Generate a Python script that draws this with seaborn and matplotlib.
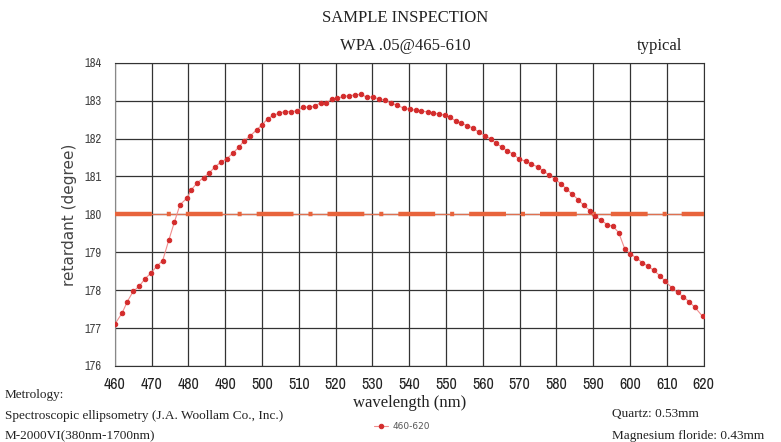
import matplotlib
matplotlib.use("Agg")
import matplotlib.pyplot as plt
from matplotlib import font_manager
import seaborn as sns
import pandas as pd

# measured retardance, WPA .05 sample
wavelength = [
    460.0, 462.0, 463.4, 465.0, 466.6, 468.2, 469.8, 471.4, 473.0, 474.7,
    476.2, 477.7, 479.6, 480.8, 482.4, 484.1, 485.6, 487.2, 488.8, 490.5,
    492.1, 493.7, 495.1, 496.7, 498.5, 500.0, 501.5, 503.0, 504.6, 506.2,
    507.8, 509.5, 511.0, 512.8, 514.3, 515.9, 517.5, 519.0, 520.4, 522.1,
    523.7, 525.2, 527.0, 528.4, 530.1, 531.9, 533.4, 535.0, 536.6, 538.6,
    540.2, 541.8, 543.3, 545.0, 546.5, 548.1, 549.7, 551.0, 552.6, 554.1,
    555.7, 557.3, 558.9, 560.5, 562.1, 563.5, 565.1, 566.6, 568.2, 569.9,
    571.7, 573.2, 574.9, 576.4, 578.0, 579.6, 581.2, 582.7, 584.2, 585.9,
    587.4, 589.1, 590.6, 592.2, 593.8, 595.4, 596.9, 598.6, 600.1, 601.7,
    603.3, 604.9, 606.5, 608.1, 609.6, 611.3, 612.9, 614.4, 616.0, 617.6,
    619.7,
]
retardance = [
    177.10, 177.40, 177.70, 177.97, 178.10, 178.30, 178.45, 178.63, 178.78, 179.33,
    179.80, 180.25, 180.43, 180.65, 180.83, 180.97, 181.09, 181.25, 181.38, 181.47,
    181.62, 181.77, 181.94, 182.06, 182.23, 182.36, 182.52, 182.61, 182.67, 182.71,
    182.71, 182.73, 182.83, 182.83, 182.85, 182.95, 182.95, 183.04, 183.06, 183.11,
    183.13, 183.15, 183.17, 183.09, 183.10, 183.04, 183.01, 182.94, 182.88, 182.80,
    182.77, 182.75, 182.73, 182.70, 182.68, 182.64, 182.62, 182.56, 182.47, 182.41,
    182.34, 182.28, 182.17, 182.08, 181.99, 181.88, 181.78, 181.68, 181.59, 181.46,
    181.40, 181.33, 181.25, 181.15, 181.04, 180.93, 180.81, 180.67, 180.54, 180.39,
    180.24, 180.10, 179.95, 179.84, 179.73, 179.68, 179.52, 179.08, 178.96, 178.85,
    178.73, 178.63, 178.52, 178.38, 178.23, 178.07, 177.94, 177.83, 177.70, 177.55,
    177.31,
]
# 180 degree target line
target_x = [460, 620]
target_y = [180, 180]

x_ticks = list(range(460, 621, 10))
y_ticks = list(range(176, 185))

df = pd.DataFrame({"wavelength": wavelength, "retardance": retardance})
target = pd.DataFrame({"wavelength": target_x, "retardance": target_y})

sns.set_style("white")
plt.rcParams["lines.scale_dashes"] = False

# look for a narrow sans for the tick numbers
narrow_font = None
narrow_stretch = "normal"
for f in font_manager.fontManager.ttflist:
    if "Narrow" in f.name:
        narrow_font = f.name
        break
if narrow_font is None:
    for f in font_manager.fontManager.ttflist:
        if f.name == "DejaVu Sans" and str(f.stretch) in ("condensed", "semi-condensed"):
            narrow_font = "DejaVu Sans"
            narrow_stretch = f.stretch
            break
if narrow_font is None:
    narrow_font = "Liberation Sans"

fig = plt.figure(figsize=(7.81, 4.42), dpi=100)
ax = fig.add_axes([0.147, 0.172, 0.754, 0.686])

# target line: thin solid + thick dash-dot on top
sns.lineplot(data=target, x="wavelength", y="retardance", ax=ax,
             color="#e07050", linewidth=0.9, zorder=3)
sns.lineplot(data=target, x="wavelength", y="retardance", ax=ax,
             color="#e8643c", linewidth=3.2, zorder=3)
ax.lines[-1].set_dashes((26.5, 10.8, 2.9, 10.8))
ax.lines[-1].set_dash_capstyle("butt")

sns.lineplot(data=df, x="wavelength", y="retardance", ax=ax,
             color="#f08c8c", linewidth=0.8, marker="o", markersize=3.2,
             markerfacecolor="#d32c2c", markeredgecolor="#d32c2c",
             label="460-620", zorder=4)

ax.set_xlim(460, 620)
ax.set_ylim(176, 184)
ax.set_xticks(x_ticks)
ax.set_yticks(y_ticks)
ax.grid(True, color="#333333", linewidth=0.9)
ax.set_axisbelow(True)
for side in ["top", "right", "bottom"]:
    ax.spines[side].set_color("#333333")
ax.spines["left"].set_color("#888888")

ax.tick_params(axis="x", length=0, pad=8, labelsize=11.5, labelcolor="#222222")
ax.tick_params(axis="y", length=3.8, width=0.8, color="#888888", pad=6,
               labelsize=9, labelcolor="#444444")
for lab in ax.get_xticklabels() + ax.get_yticklabels():
    lab.set_family(narrow_font)
    lab.set_stretch(narrow_stretch)

ax.set_xlabel("wavelength (nm)", family="Liberation Serif", fontsize=12,
              color="#222222", labelpad=2)
ax.set_ylabel("retardant (degree)", fontsize=11, color="#444444", labelpad=5)

ax.legend(loc="center", bbox_to_anchor=(0.515, 0.034),
          bbox_transform=fig.transFigure, frameon=False, fontsize=6.5,
          handlelength=1.6, handletextpad=0.5, labelcolor="#555555")

serif = "Liberation Serif"
fig.text(405 / 781, 1 - 18 / 442, "SAMPLE INSPECTION", ha="center", va="center",
         family=serif, fontsize=12, color="#222222")
fig.text(405 / 781, 1 - 46 / 442, "WPA .05@465-610", ha="center", va="center",
         family=serif, fontsize=12, color="#222222")
fig.text(660 / 781, 1 - 46 / 442, "typical", ha="center", va="center",
         family=serif, fontsize=12, color="#222222")

fig.text(5 / 781, 1 - 395 / 442, "Metrology:", ha="left", va="center",
         family=serif, fontsize=9.5, color="#222222")
fig.text(5 / 781, 1 - 416 / 442, "Spectroscopic ellipsometry (J.A. Woollam Co., Inc.)",
         ha="left", va="center", family=serif, fontsize=9.5, color="#222222")
fig.text(5 / 781, 1 - 436 / 442, "M-2000VI(380nm-1700nm)", ha="left", va="center",
         family=serif, fontsize=9.5, color="#222222")
fig.text(612 / 781, 1 - 414 / 442, "Quartz: 0.53mm", ha="left", va="center",
         family=serif, fontsize=9.5, color="#222222")
fig.text(612 / 781, 1 - 436 / 442, "Magnesium floride: 0.43mm", ha="left", va="center",
         family=serif, fontsize=9.5, color="#222222")

fig.savefig("out.png", dpi=100)
